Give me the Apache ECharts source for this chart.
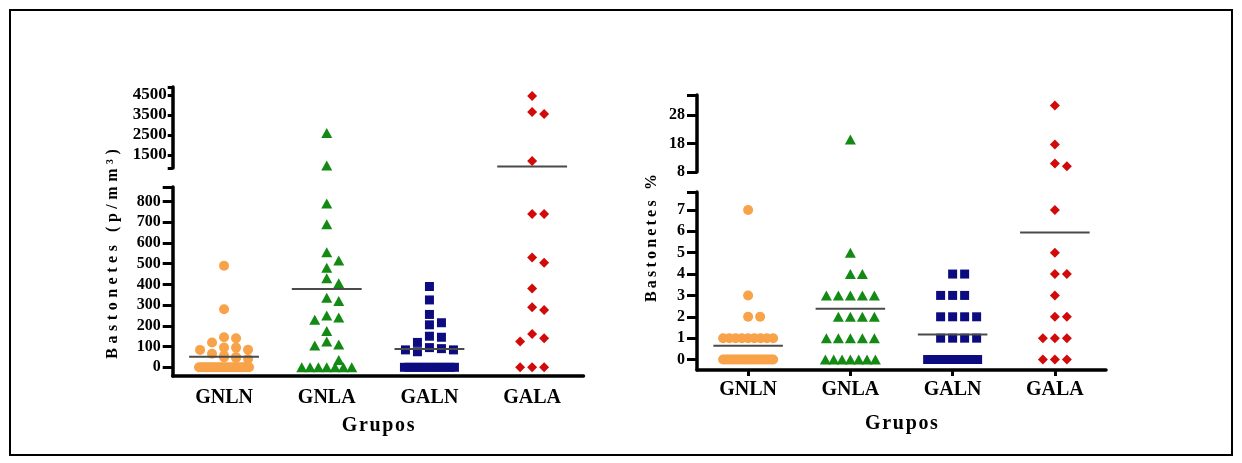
<!DOCTYPE html>
<html>
<head>
<meta charset="utf-8">
<script src="https://cdn.jsdelivr.net/npm/echarts@6/dist/echarts.min.js"></script>
<style>
  html, body { margin: 0; padding: 0; background: #fff; }
  #chart { width: 1242px; height: 463px; }
</style>
</head>
<body>
<div id="chart"></div>
<script>
const groups = ['GNLN', 'GNLA', 'GALN', 'GALA'];

// Bastonetes (p/mm3), one array per group
const absGNLN = [490, 280, 145, 140, 120, 95, 95, 85, 84, 65, 55, 50, 48, 45, 40,
  0, 0, 0, 0, 0, 0, 0, 0, 0, 0, 0, 0, 0, 0, 0, 0, 0, 0, 0, 0];
const absGNLA = [2600, 970, 790, 690, 555, 515, 480, 430, 405, 335, 320, 250, 240, 230, 175, 125, 110, 105, 35,
  0, 0, 0, 0, 0, 0, 0];
const absGALN = [390, 325, 255, 215, 205, 150, 145, 120, 95, 90, 84, 84, 75,
  0, 0, 0, 0, 0, 0, 0, 0, 0, 0, 0, 0];
const absGALA = [4450, 3650, 3550, 1200, 740, 740, 530, 505, 380, 290, 277, 161, 140, 124, 0, 0, 0];
const absMeans = [51, 378, 88, 930];

// Bastonetes %
const pctGNLN = [7, 3, 2, 2, 1, 1, 1, 1, 1, 1, 1, 1, 1,
  0, 0, 0, 0, 0, 0, 0, 0, 0, 0, 0, 0, 0, 0, 0, 0, 0, 0, 0, 0, 0, 0];
const pctGNLA = [19.4, 5, 4, 4, 3, 3, 3, 3, 3, 2, 2, 2, 2, 1, 1, 1, 1, 1, 0, 0, 0, 0, 0, 0, 0];
const pctGALN = [4, 4, 3, 3, 3, 2, 2, 2, 2, 1, 1, 1, 1, 0, 0, 0, 0, 0, 0, 0, 0, 0, 0, 0, 0];
const pctGALA = [31.3, 17.6, 11, 10, 7, 5, 4, 4, 3, 2, 2, 1, 1, 1, 0, 0, 0];
const pctMeans = [0.65, 2.38, 1.17, 5.94];

// tick labels
const absTicksLow = [0, 100, 200, 300, 400, 500, 600, 700, 800];
const absTicksHigh = [1500, 2500, 3500, 4500];
const pctTicksLow = [0, 1, 2, 3, 4, 5, 6, 7];
const pctTicksHigh = [8, 18, 28];

const FONT = '"Liberation Serif", "Times New Roman", serif';
const symbols = ['circle', 'triangle', 'rect', 'diamond'];
const colors = ['#f8a24a', '#138a13', '#0c0c80', '#d10a0a'];
const sizes = [10, [11, 10], 9, 10];

// each panel = lower segment + upper segment of a broken y axis
const panels = [
  {
    data: [absGNLN, absGNLA, absGALN, absGALA], means: absMeans,
    left: 172.7, width: 410.8, xTicks: false, labelMargin: 12, nameGap: 40,
    low: { top: 187, height: 189, min: -42, max: 870, ticks: absTicksLow, tickLen: 10, margin: 12, fontSize: 16 },
    high: { top: 87, height: 81, min: 850, max: 4900, ticks: absTicksHigh, tickLen: 5, margin: 6, fontSize: 17 }
  },
  {
    data: [pctGNLN, pctGNLA, pctGALN, pctGALA], means: pctMeans,
    left: 697, width: 409, xTicks: true, labelMargin: 10, nameGap: 44,
    low: { top: 192, height: 178, min: -0.49, max: 7.84, ticks: pctTicksLow, tickLen: 10, margin: 12, fontSize: 16 },
    high: { top: 95, height: 77, min: 8, max: 35, ticks: pctTicksHigh, tickLen: 10, margin: 12, fontSize: 16, shift: true }
  }
];

function segPx(seg, v) {
  return seg.top + seg.height * (seg.max - v) / (seg.max - seg.min);
}

// spread the points of a group sideways so they don't cover each other
function swarm(vals, panel) {
  const pxX = panel.width / 4, size = 9, slot = 12, half = 25;
  const pts = vals.map(v => {
    const seg = v > panel.low.max ? panel.high : panel.low;
    return { v, seg, y: segPx(seg, v), dx: null };
  });
  const count = {};
  vals.forEach(v => { count[v] = (count[v] || 0) + 1; });
  const placed = [];
  Object.keys(count).forEach(k => {
    const n = count[k];
    if (n <= 5) return;
    let j = 0;
    pts.forEach(p => {
      if (p.v === +k) { p.dx = -half + 2 * half * j / (n - 1); j++; placed.push(p); }
    });
  });
  const cands = [0, 1, -1, 2, -2];
  pts.filter(p => p.dx === null).sort((a, b) => b.v - a.v).forEach(p => {
    let best = 0, bestHits = Infinity;
    for (const c of cands) {
      const dx = c * slot;
      const hits = placed.filter(q => Math.abs(q.dx - dx) < size && Math.abs(q.y - p.y) < size).length;
      if (hits < bestHits) { best = dx; bestHits = hits; }
      if (hits === 0) break;
    }
    p.dx = best;
    placed.push(p);
  });
  return pts.map(p => ({ high: p.seg === panel.high, x: p.dx / pxX, v: p.v }));
}

const spaced = (s, sep) => s.split('').join(sep);

const grid = [], xAxis = [], yAxis = [], series = [];

panels.forEach((panel, p) => {
  ['low', 'high'].forEach((key, s) => {
    const seg = panel[key];
    const idx = 2 * p + s;
    grid.push({ left: panel.left, top: seg.top, width: panel.width, height: seg.height });
    const caps = key === 'low' ? [seg.max] : [seg.min, seg.max];
    xAxis.push({
      type: 'value', gridIndex: idx, min: -0.5, max: 3.5, show: key === 'low',
      axisLine: { onZero: false, lineStyle: { color: '#000', width: 3.5 } },
      axisTick: { show: panel.xTicks, customValues: [0, 1, 2, 3], length: 6, lineStyle: { color: '#000', width: 3 } },
      axisLabel: {
        customValues: [0, 1, 2, 3], formatter: v => groups[Math.round(v)],
        fontFamily: FONT, fontWeight: 'bold', fontSize: 20, color: '#000', margin: panel.labelMargin
      },
      splitLine: { show: false },
      name: spaced('Grupos', '\u200A'), nameLocation: 'middle', nameGap: panel.nameGap,
      nameTextStyle: { fontFamily: FONT, fontWeight: 'bold', fontSize: 20, color: '#000' }
    });
    yAxis.push({
      type: 'value', gridIndex: idx, min: seg.min, max: seg.max,
      axisLine: { show: true, onZero: false, lineStyle: { color: '#000', width: 3.5 } },
      axisTick: { show: true, customValues: seg.ticks.concat(caps), length: seg.tickLen, lineStyle: { color: '#000', width: 3 } },
      axisLabel: {
        customValues: seg.ticks, formatter: v => String(v),
        fontFamily: FONT, fontWeight: 'bold', fontSize: seg.fontSize, color: '#000',
        margin: seg.margin, padding: seg.shift ? [7, 0, 0, 0] : 0
      },
      splitLine: { show: false }
    });
  });

  panel.data.forEach((vals, g) => {
    const pts = swarm(vals, panel);
    [false, true].forEach((high, s) => {
      series.push({
        type: 'scatter', xAxisIndex: 2 * p + s, yAxisIndex: 2 * p + s,
        symbol: symbols[g], symbolSize: sizes[g],
        itemStyle: { color: colors[g], opacity: 1 },
        data: pts.filter(q => q.high === high).map(q => [g + q.x, q.v]),
        z: 3
      });
    });
  });

  // group mean lines
  [false, true].forEach((high, s) => {
    const seg = high ? panel.high : panel.low;
    series.push({
      type: 'custom', xAxisIndex: 2 * p + s, yAxisIndex: 2 * p + s,
      data: panel.means.map((m, g) => [g, m]).filter(d => d[1] >= seg.min && d[1] <= seg.max),
      renderItem: (params, api) => {
        const a = api.coord([api.value(0) - 0.34, api.value(1)]);
        const b = api.coord([api.value(0) + 0.34, api.value(1)]);
        return { type: 'line', shape: { x1: a[0], y1: a[1], x2: b[0], y2: b[1] }, style: { stroke: '#4a4a4a', lineWidth: 2 } };
      },
      z: 4
    });
  });
});

const titleStyle = { fill: '#000', fontFamily: FONT, fontWeight: 'bold', fontSize: 16, textAlign: 'center', textVerticalAlign: 'middle', align: 'center', verticalAlign: 'middle' };

const chart = echarts.init(document.getElementById('chart'));
chart.setOption({
  backgroundColor: '#fff',
  animation: false,
  grid, xAxis, yAxis, series,
  graphic: [
    { type: 'rect', shape: { x: 10, y: 10, width: 1222, height: 445 }, style: { fill: 'none', stroke: '#000', lineWidth: 2 } },
    { type: 'text', x: 113, y: 254, rotation: Math.PI / 2, style: Object.assign({ text: spaced('Bastonetes (p/mm³)', '\u2009\u200A') }, titleStyle) },
    { type: 'text', x: 652, y: 238, rotation: Math.PI / 2, style: Object.assign({ text: spaced('Bastonetes %', '\u2009') }, titleStyle) }
  ]
});
</script>
</body>
</html>
